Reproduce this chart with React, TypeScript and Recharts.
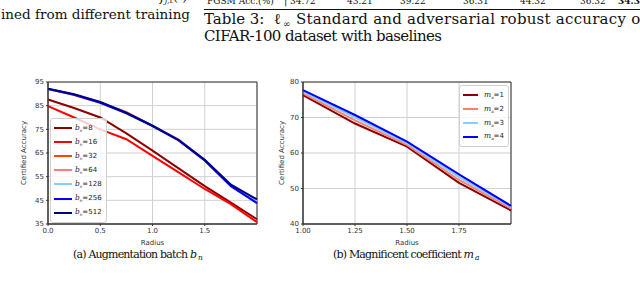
import React from 'react';
import {
  LineChart,
  Line,
  XAxis,
  YAxis,
  CartesianGrid,
  Legend,
  ReferenceArea,
} from 'recharts';

// (a) augmentation batch b_n
const radiiA = [0, 0.25, 0.5, 0.75, 1, 1.25, 1.5, 1.75, 2];
const batchSizes = [8, 16, 32, 64, 128, 256, 512];
const accB8 = [87.6, 84.0, 80.0, 73.3, 66.0, 58.5, 51.0, 44.0, 37.0];
const accB16 = [84.8, 80.0, 75.0, 70.8, 63.8, 56.8, 49.8, 43.4, 35.8];
const accB32 = [92.0, 89.6, 86.4, 82.3, 76.5, 70.5, 61.8, 51.3, 44.6];
const accB64 = [92.1, 89.5, 86.2, 82.2, 76.6, 70.8, 61.9, 51.2, 44.8];
const accB128 = [92.2, 89.7, 86.5, 81.9, 76.7, 70.5, 62.0, 51.6, 44.8];
const accB256 = [92.0, 89.6, 86.2, 81.8, 76.4, 70.3, 61.8, 51.0, 43.8];
const accB512 = [92.2, 89.8, 86.6, 82.0, 76.6, 70.5, 62.1, 51.6, 45.4];
const batchSeries = [accB8, accB16, accB32, accB64, accB128, accB256, accB512];
const ticksAX = [0, 0.5, 1, 1.5];
const ticksAY = [35, 45, 55, 65, 75, 85, 95];

// (b) magnificent coefficient m_a
const radiiB = [1, 1.25, 1.5, 1.75, 2];
const coefs = [1, 2, 3, 4];
const accM1 = [76.3, 68.3, 61.8, 51.6, 43.8];
const accM2 = [76.8, 69.2, 62.3, 52.4, 44.4];
const accM3 = [77.3, 70.0, 62.8, 53.2, 44.8];
const accM4 = [77.7, 70.7, 63.2, 54.0, 45.1];
const coefSeries = [accM1, accM2, accM3, accM4];
const ticksBX = [1, 1.25, 1.5, 1.75];
const ticksBY = [40, 50, 60, 70, 80];

const batchColors = ['#8b0000', '#ff0000', '#ff4500', '#fa8072', '#87cefa', '#0000ff', '#000080'];
const coefColors = ['#8b0000', '#fa8072', '#87cefa', '#0000ff'];

const dataA = radiiA.map((r, i) => {
  const row: any = { r };
  batchSizes.forEach((b, k) => (row['b' + b] = batchSeries[k][i]));
  return row;
});
const dataB = radiiB.map((r, i) => {
  const row: any = { r };
  coefs.forEach((m, k) => (row['m' + m] = coefSeries[k][i]));
  return row;
});

const sans = 'DejaVu Sans';
const serif = 'DejaVu Serif';
const tick = { fontSize: 7, fill: '#333', fontFamily: sans };

const makeLegend = (sym: string, sub: string, rowH: number, lineW: number, gap: number) =>
  (props: any) => {
    // recharts sorts the payload by name, put it back in series order
    const items = [...(props.payload || [])].sort((a: any, b: any) => Number(a.value) - Number(b.value));
    return (
      <div
        style={{
          background: 'rgba(255,255,255,0.8)',
          border: '1px solid #d0d0d0',
          borderRadius: 3,
          padding: '2px 4px 2px 3px',
          fontFamily: sans,
          fontSize: 7,
          color: '#222',
        }}
      >
        {items.map((p: any) => (
          <div key={p.value} style={{ height: rowH, display: 'flex', alignItems: 'center' }}>
            <span style={{ width: lineW, height: 2, background: p.color, marginRight: gap }} />
            <span>
              <i style={{ fontFamily: serif, fontSize: 7.5 }}>{sym}</i>
              <sub style={{ fontSize: 4 }}>{sub}</sub>={p.value}
            </span>
          </div>
        ))}
      </div>
    );
  };

const LegendA = makeLegend('b', 'n', 14.1, 18, 3);
const LegendB = makeLegend('m', 'a', 13.9, 15, 6);

const yLabel = (offset: number) => ({
  value: 'Certified Accuracy',
  angle: -90,
  position: 'insideLeft' as const,
  offset,
  style: { textAnchor: 'middle', fontSize: 7, fill: '#333', fontFamily: sans },
});
const xLabel = {
  value: 'Radius',
  position: 'insideBottom' as const,
  offset: 5,
  style: { fontSize: 7, fill: '#333', fontFamily: sans },
};

export default function App() {
  return (
    <div
      style={{
        position: 'absolute',
        left: 0,
        top: 0,
        width: 640,
        height: 281,
        overflow: 'hidden',
        background: '#fff',
      }}
    >
      <svg width={640} height={281} style={{ position: 'absolute', left: 0, top: 0 }}>
        <g fontFamily={serif} fill="#111">
          <text x={160} y={1} fontSize={13} fontStyle="italic">
            f<tspan fontSize={8} dy={2}>j,t</tspan>
            <tspan fontStyle="normal" dy={-2}>(·)</tspan>
          </text>
          <text x={1} y={19} fontSize={13.5} textLength={189} lengthAdjust="spacing">
            ined from different training
          </text>
          <text x={207} y={3.5} fontSize={9}>FGSM Acc.(%)</text>
          <text x={284} y={3.5} fontSize={10}>|</text>
          <text x={290} y={3.5} fontSize={9}>34.72</text>
          <text x={347} y={3.5} fontSize={9}>43.21</text>
          <text x={400} y={3.5} fontSize={9}>39.22</text>
          <text x={463} y={3.5} fontSize={9}>36.31</text>
          <text x={520} y={3.5} fontSize={9}>44.32</text>
          <text x={580} y={3.5} fontSize={9}>36.32</text>
          <text x={618} y={3.5} fontSize={9} fontWeight="bold">34.37</text>
          <line x1={204} x2={640} y1={9.5} y2={9.5} stroke="#111" strokeWidth={1.2} />
          <text x={204} y={24} fontSize={15}>Table 3:</text>
          <text x={274} y={24} fontSize={15}>ℓ</text>
          <text x={283} y={27} fontSize={9}>∞</text>
          <text x={296} y={24} fontSize={15} textLength={350} lengthAdjust="spacing">
            Standard and adversarial robust accuracy of
          </text>
          <text x={204} y={40.7} fontSize={15} textLength={238} lengthAdjust="spacing">
            CIFAR-100 dataset with baselines
          </text>
          <text x={73} y={258} fontSize={11} textLength={124} lengthAdjust="spacing">
            (a){'  '}Augmentation batch <tspan fontStyle="italic">b</tspan>
          </text>
          <text x={198} y={260} fontSize={7.5} fontStyle="italic">n</text>
          <text x={333} y={258} fontSize={11} textLength={141} lengthAdjust="spacing">
            (b) Magnificent coefficient <tspan fontStyle="italic">m</tspan>
          </text>
          <text x={475} y={260} fontSize={7.5} fontStyle="italic">a</text>
        </g>
      </svg>

      <div style={{ position: 'absolute', left: 0, top: 0 }}>
        <LineChart width={270} height={250} data={dataA} margin={{ top: 82, right: 13, bottom: 0, left: 0 }}>
          <CartesianGrid stroke="#d0d0d0" strokeWidth={1} />
          <XAxis
            dataKey="r"
            type="number"
            domain={[0, 2]}
            ticks={ticksAX}
            tickFormatter={(v: number) => v.toFixed(1)}
            tick={tick}
            tickSize={2}
            tickMargin={2}
            stroke="#333"
            height={26}
            label={xLabel}
          />
          <YAxis
            type="number"
            domain={[35, 95]}
            ticks={ticksAY}
            tick={tick}
            tickSize={2}
            tickMargin={2}
            stroke="#333"
            width={48}
            label={yLabel(24)}
          />
          {batchSizes.map((b, k) => (
            <Line
              key={b}
              dataKey={'b' + b}
              name={String(b)}
              stroke={batchColors[k]}
              strokeWidth={2}
              dot={false}
              isAnimationActive={false}
            />
          ))}
          <ReferenceArea x1={0} x2={2} y1={35} y2={95} fill="none" stroke="#333" strokeWidth={1} />
          <Legend
            layout="vertical"
            align="center"
            verticalAlign="middle"
            wrapperStyle={{ left: 50, top: 118, width: 'auto' }}
            content={LegendA}
          />
        </LineChart>
      </div>

      <div style={{ position: 'absolute', left: 260, top: 0 }}>
        <LineChart width={260} height={250} data={dataB} margin={{ top: 82, right: 9, bottom: 0, left: 0 }}>
          <CartesianGrid stroke="#d0d0d0" strokeWidth={1} />
          <XAxis
            dataKey="r"
            type="number"
            domain={[1, 2]}
            ticks={ticksBX}
            tickFormatter={(v: number) => v.toFixed(2)}
            tick={tick}
            tickSize={2}
            tickMargin={2}
            stroke="#333"
            height={26}
            label={xLabel}
          />
          <YAxis
            type="number"
            domain={[40, 80]}
            ticks={ticksBY}
            tick={tick}
            tickSize={2}
            tickMargin={2}
            stroke="#333"
            width={43}
            label={yLabel(22)}
          />
          {coefs.map((m, k) => (
            <Line
              key={m}
              dataKey={'m' + m}
              name={String(m)}
              stroke={coefColors[k]}
              strokeWidth={2}
              dot={false}
              isAnimationActive={false}
            />
          ))}
          <ReferenceArea x1={1} x2={2} y1={40} y2={80} fill="none" stroke="#333" strokeWidth={1} />
          <Legend
            layout="vertical"
            align="center"
            verticalAlign="middle"
            wrapperStyle={{ left: 199, top: 85, width: 'auto' }}
            content={LegendB}
          />
        </LineChart>
      </div>
    </div>
  );
}
